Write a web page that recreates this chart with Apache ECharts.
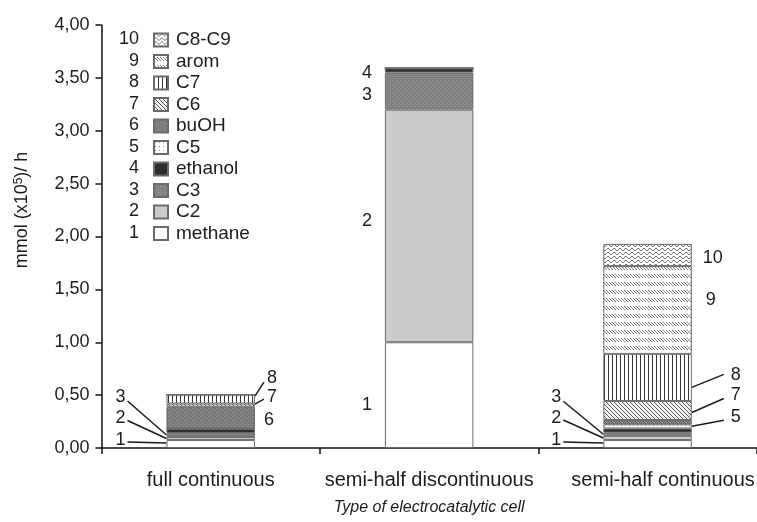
<!DOCTYPE html>
<html><head><meta charset="utf-8">
<script src="https://cdn.jsdelivr.net/npm/echarts@6/dist/echarts.min.js"></script>
<style>html,body{margin:0;padding:0;background:#fff}#c{width:757px;height:522px}</style>
</head><body><div id="c"></div>
<script>
// ---- data ----
const categories = ['full continuous', 'semi-half discontinuous', 'semi-half continuous'];
const seriesNames = ['methane', 'C2', 'C3', 'ethanol', 'C5', 'buOH', 'C6', 'C7', 'arom', 'C8-C9'];
const methane = [0.075, 1.00, 0.075];
const C2      = [0.030, 2.20, 0.040];
const C3      = [0.035, 0.35, 0.030];
const ethanol = [0.040, 0.04, 0.040];
const C5      = [0.000, 0.00, 0.040];
const buOH    = [0.210, 0.00, 0.040];
const C6      = [0.030, 0.00, 0.180];
const C7      = [0.085, 0.00, 0.445];
const arom    = [0.000, 0.00, 0.830];
const C8C9    = [0.000, 0.00, 0.210];
const seriesValues = [methane, C2, C3, ethanol, C5, buOH, C6, C7, arom, C8C9];
const yTicks = [0, 0.5, 1, 1.5, 2, 2.5, 3, 3.5, 4];
// which segments carry a number label: [category index, series index]
const labelled = [[0,0],[0,1],[0,2],[0,5],[0,6],[0,7],[1,0],[1,1],[1,2],[1,3],[2,0],[2,1],[2,2],[2,4],[2,6],[2,7],[2,8],[2,9]];

// ---- styles ----
const FONT = 'Liberation Sans, Arial, sans-serif';
const TXT = '#1c1c1c';
function pat(w, h, base, draw) {
  const c = document.createElement('canvas'); c.width = w; c.height = h;
  const g = c.getContext('2d'); g.fillStyle = base; g.fillRect(0, 0, w, h);
  if (draw) draw(g);
  return { image: c, repeat: 'repeat' };
}
function px(g, col, pts) { g.fillStyle = col; pts.forEach(p => g.fillRect(p[0], p[1], 1, 1)); }
const fills = [
  '#ffffff',
  '#cbcbcb',
  pat(4, 4, '#808080', g => px(g, '#a0a0a0', [[0,0],[2,2]])),
  '#2e2e2e',
  pat(4, 4, '#ffffff', g => px(g, '#9a9a9a', [[1,1]])),
  pat(4, 4, '#7a7a7a', g => px(g, '#9c9c9c', [[0,0],[2,2]])),
  pat(4, 4, '#f4f4f4', g => px(g, '#555', [[0,0],[1,1],[2,2],[3,3]])),
  pat(4, 4, '#ffffff', g => { g.fillStyle = '#333'; g.fillRect(0, 0, 1, 4); }),
  pat(6, 8, '#ffffff', g => px(g, '#777', [[0,2],[1,3],[2,4],[3,5],[3,2],[4,3],[5,4],[0,5]])),
  pat(6, 4, '#ffffff', g => px(g, '#777', [[0,1],[1,0],[2,0],[3,1],[4,2],[5,2]]))
];

const chart = echarts.init(document.getElementById('c'), null, { renderer: 'canvas' });
const BAR_FRAC = 0.405;
const LEG_TOP = 25.5, LEG_PITCH = 21.55, LEG_GAP = 2.5, LEG_LEFT = 148;
const legendOrder = seriesNames.slice().reverse();

chart.setOption({
  animation: false,
  textStyle: { fontFamily: FONT },
  grid: { left: 101.5, right: -4.5, top: 25, bottom: 74 },
  legend: {
    data: legendOrder, orient: 'vertical', left: LEG_LEFT, top: LEG_TOP,
    itemWidth: 14, itemHeight: 13, itemGap: LEG_GAP, icon: 'rect', selectedMode: false,
    textStyle: { fontSize: 19, color: TXT, fontFamily: FONT, padding: [0, 0, 0, 3] }
  },
  xAxis: {
    type: 'category', data: categories,
    axisLine: { lineStyle: { color: '#111', width: 1.5 } },
    axisTick: { show: true, length: 6, lineStyle: { color: '#111', width: 1.5 } },
    axisLabel: { fontSize: 20, color: TXT, margin: 22, fontFamily: FONT, interval: 0, hideOverlap: false,
      formatter: (v, i) => i === 2 ? '{r|' + v + '}' : v,
      rich: { r: { fontSize: 20, color: TXT, fontFamily: FONT, padding: [0, 0, 0, 31] } } },
    name: 'Type of electrocatalytic cell', nameLocation: 'middle', nameGap: 52,
    nameTextStyle: { fontStyle: 'italic', fontSize: 16, color: TXT, fontFamily: FONT }
  },
  yAxis: {
    type: 'value', min: yTicks[0], max: yTicks[yTicks.length - 1], interval: yTicks[1] - yTicks[0],
    axisLine: { show: true, lineStyle: { color: '#111', width: 1.5 } },
    axisTick: { show: true, length: 6, lineStyle: { color: '#111', width: 1.5 } },
    axisLabel: { fontSize: 18, color: TXT, margin: 12, fontFamily: FONT,
      formatter: v => v.toFixed(2).replace('.', ',') },
    splitLine: { show: false }
  },
  series: seriesNames.map((n, i) => ({
    name: n, type: 'bar', stack: 'total', barWidth: (BAR_FRAC * 100) + '%',
    data: seriesValues[i],
    itemStyle: { color: fills[i], borderColor: '#6a6a6a', borderWidth: 1 }
  }))
});

// ---- annotations (numbers + leader lines), positioned from the axes ----
// offsets: side, dx from bar edge, dy from segment middle, line, ay (line anchor dy on bar), lx/ly (line end from label centre)
const offsets = [
  ['L', -46, -4, 1, -1, 7, 2], ['L', -46, -20, 1, 0, 7, 2], ['L', -46, -38, 1, 0, 7, 4],
  ['R', 14, 2, 0], ['R', 17, -8, 1, -1, -8, 2], ['R', 17, -21, 1, -3, -8, 4],
  ['L', -18, 10, 0], ['L', -18, -5, 0], ['L', -18, 4, 0], ['L', -18, 3, 0],
  ['L', -47, -4, 1, -1, 7, 2], ['L', -47, -20, 1, 0, 7, 2], ['L', -47, -37, 1, 0, 7, 4],
  ['R', 44, -9, 1, 0, -12, 3], ['R', 44, -15, 1, 2, -12, 3], ['R', 44, -2, 1, 10, -12, -1],
  ['R', 19, -10, 0], ['R', 21, 3, 0]
];
const p0 = chart.convertToPixel({ xAxisIndex: 0, yAxisIndex: 0 }, [0, 0]);
const p1 = chart.convertToPixel({ xAxisIndex: 0, yAxisIndex: 0 }, [1, 0]);
const bw = (p1[0] - p0[0]) * BAR_FRAC;
const graphics = [];
labelled.forEach((ls, k) => {
  const [c, s] = ls;
  let below = 0; for (let j = 0; j < s; j++) below += seriesValues[j][c];
  const above = below + seriesValues[s][c];
  const pb = chart.convertToPixel({ xAxisIndex: 0, yAxisIndex: 0 }, [c, below]);
  const pa = chart.convertToPixel({ xAxisIndex: 0, yAxisIndex: 0 }, [c, above]);
  const o = offsets[k];
  const edgeX = o[0] === 'L' ? pb[0] - bw / 2 : pb[0] + bw / 2;
  const midY = (pb[1] + pa[1]) / 2;
  const tx = edgeX + o[1], ty = midY + o[2];
  graphics.push({ type: 'text', silent: true, style: { text: String(s + 1), x: tx, y: ty,
    fill: TXT, font: '18px ' + FONT, align: 'center', verticalAlign: 'middle' } });
  if (o[3]) {
    graphics.push({ type: 'line', silent: true,
      shape: { x1: edgeX, y1: midY + o[4], x2: tx + o[5], y2: ty + o[6] },
      style: { stroke: '#1a1a1a', lineWidth: 1.5 } });
  }
});
// legend numbers
legendOrder.forEach((n, i) => {
  graphics.push({ type: 'text', silent: true, style: {
    text: String(seriesNames.indexOf(n) + 1), x: LEG_LEFT - 9,
    y: 39 + i * LEG_PITCH,
    fill: TXT, font: '18px ' + FONT, align: 'right', verticalAlign: 'middle' } });
});
// y axis name
graphics.push({ type: 'text', silent: true, x: 22, y: 210, rotation: Math.PI / 2, style: {
  text: 'mmol (x10{sup|5})/ h', fill: TXT, font: '18px ' + FONT, align: 'center', verticalAlign: 'middle',
  rich: { sup: { fontSize: 12, fontFamily: FONT, fill: TXT, verticalAlign: 'top', padding: [0, 0, 6, 0] } } } });
chart.setOption({ graphic: graphics });
</script></body></html>
